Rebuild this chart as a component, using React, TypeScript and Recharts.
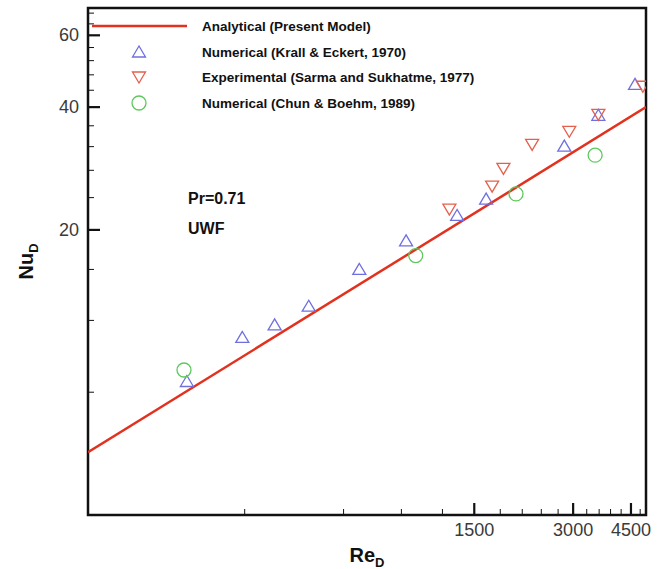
import React from "react";
import {
  ReferenceArea,
  Scatter,
  ScatterChart,
  XAxis,
  YAxis,
} from "recharts";

// Re_D vs Nu_D
const analyticalRe = [100, 5000];
const analyticalNu = [5.7, 40];

const krallRe = [200, 295, 370, 470, 670, 930, 1330, 1630, 2820, 3580, 4630];
const krallNu = [8.5, 10.9, 11.7, 13.0, 16.0, 18.8, 21.7, 23.8, 32.1, 38.2, 45.5];

const sarmaRe = [1260, 1700, 1840, 2250, 2920, 3580, 4890];
const sarmaNu = [22.5, 25.6, 28.3, 32.4, 34.9, 38.4, 45.0];

const chunRe = [196, 995, 2010, 3500];
const chunNu = [9.07, 17.3, 24.5, 30.5];

const xTicks = [300, 600, 900, 1200, 1500, 1800, 2100, 2400, 2700, 3000, 3300, 3600, 3900, 4200, 4500, 4800];
const xLabelled = [1500, 3000, 4500];
const yTicks = [8, 12, 16, 20, 24, 28, 32, 36, 40, 44, 48, 52, 56, 60, 64, 68];
const yLabelled = [20, 40, 60];

const legendItems = [
  "Analytical (Present Model)",
  "Numerical (Krall & Eckert, 1970)",
  "Experimental (Sarma and Sukhatme, 1977)",
  "Numerical (Chun & Boehm, 1989)",
];

const toPoints = (re: number[], nu: number[]) =>
  re.map((r, i) => ({ re: r, nu: nu[i] }));

const FONT = '"Liberation Sans", Arial, Helvetica, sans-serif';
const LINE_RED = "#e2321f";
const BLUE = "#6f6fe0";
const RED = "#e4604c";
const GREEN = "#5ec85e";

const UpTriangle = ({ cx, cy }: any) => (
  <path
    d={`M${cx},${cy - 6} L${cx - 6.5},${cy + 5} L${cx + 6.5},${cy + 5} Z`}
    fill="none"
    stroke={BLUE}
    strokeWidth={1.3}
  />
);

const DownTriangle = ({ cx, cy }: any) => (
  <path
    d={`M${cx},${cy + 6} L${cx - 6.5},${cy - 5} L${cx + 6.5},${cy - 5} Z`}
    fill="none"
    stroke={RED}
    strokeWidth={1.3}
  />
);

const Ring = ({ cx, cy }: any) => (
  <circle cx={cx} cy={cy} r={7} fill="none" stroke={GREEN} strokeWidth={1.3} />
);

const NoDot = () => <g />;

const XTick = ({ x, y, payload }: any) => {
  const major = xLabelled.includes(payload.value);
  return (
    <g>
      <line x1={x} x2={x} y1={y} y2={y - (major ? 12 : 6)} stroke="#111" strokeWidth={major ? 2.2 : 1} />
      {major && (
        <text x={x} y={y + 21} textAnchor="middle" fontFamily={FONT} fontSize={18} fill="#3a3a3a">
          {payload.value}
        </text>
      )}
    </g>
  );
};

const YTick = ({ x, y, payload }: any) => {
  const major = yLabelled.includes(payload.value);
  return (
    <g>
      <line x1={x} x2={x + (major ? 12 : 6)} y1={y} y2={y} stroke="#111" strokeWidth={major ? 2.2 : 1} />
      {major && (
        <text x={x - 9} y={y + 6} textAnchor="end" fontFamily={FONT} fontSize={18} fill="#3a3a3a">
          {payload.value}
        </text>
      )}
    </g>
  );
};

const XTitle = ({ viewBox }: any) => (
  <text x={viewBox.x + viewBox.width / 2} y={viewBox.y + 47} textAnchor="middle" fontFamily={FONT} fontSize={20} fontWeight="bold" fill="#111">
    Re
    <tspan fontSize={13} dy={5}>D</tspan>
  </text>
);

const YTitle = ({ viewBox }: any) => {
  const cx = 33;
  const cy = viewBox.y + viewBox.height / 2;
  return (
    <text x={cx} y={cy} transform={`rotate(-90 ${cx} ${cy})`} textAnchor="middle" fontFamily={FONT} fontSize={20} fontWeight="bold" fill="#111">
      Nu
      <tspan fontSize={13} dy={5}>D</tspan>
    </text>
  );
};

function Overlay() {
  const rows = [26, 52, 77, 103];
  return (
    <svg width={663} height={569} style={{ position: "absolute", left: 0, top: 0, pointerEvents: "none" }}>
      <line x1={92} x2={187} y1={rows[0]} y2={rows[0]} stroke={LINE_RED} strokeWidth={2.5} />
      <UpTriangle cx={139} cy={rows[1]} />
      <DownTriangle cx={139} cy={rows[2]} />
      <Ring cx={139} cy={rows[3]} />
      {legendItems.map((label, i) => (
        <text key={label} x={202} y={rows[i] + 5} fontFamily={FONT} fontSize={13.5} fontWeight="bold" fill="#111">
          {label}
        </text>
      ))}
      <text x={188} y={204} fontFamily={FONT} fontSize={16} fontWeight="bold" fill="#111">
        Pr=0.71
      </text>
      <text x={188} y={234} fontFamily={FONT} fontSize={16} fontWeight="bold" fill="#111">
        UWF
      </text>
    </svg>
  );
}

export default function App() {
  return (
    <div style={{ position: "absolute", left: 0, top: 0, width: 663, height: 569, background: "#fff" }}>
      <ScatterChart width={663} height={569} margin={{ top: 8, right: 17, bottom: 24, left: 28 }}>
        <XAxis
          type="number"
          dataKey="re"
          scale="log"
          domain={[100, 5000]}
          allowDataOverflow
          ticks={xTicks}
          interval={0}
          tick={<XTick />}
          tickLine={false}
          tickSize={0}
          tickMargin={0}
          axisLine={false}
          height={30}
          label={<XTitle />}
        />
        <YAxis
          type="number"
          dataKey="nu"
          scale="log"
          domain={[4, 70]}
          allowDataOverflow
          ticks={yTicks}
          interval={0}
          tick={<YTick />}
          tickLine={false}
          tickSize={0}
          tickMargin={0}
          axisLine={false}
          width={60}
          label={<YTitle />}
        />
        <Scatter
          name="Analytical (Present Model)"
          data={toPoints(analyticalRe, analyticalNu)}
          line={{ stroke: LINE_RED, strokeWidth: 2.5 }}
          shape={<NoDot />}
          isAnimationActive={false}
        />
        <Scatter
          name="Numerical (Krall & Eckert, 1970)"
          data={toPoints(krallRe, krallNu)}
          shape={<UpTriangle />}
          isAnimationActive={false}
        />
        <Scatter
          name="Experimental (Sarma and Sukhatme, 1977)"
          data={toPoints(sarmaRe, sarmaNu)}
          shape={<DownTriangle />}
          isAnimationActive={false}
        />
        <Scatter
          name="Numerical (Chun & Boehm, 1989)"
          data={toPoints(chunRe, chunNu)}
          shape={<Ring />}
          isAnimationActive={false}
        />
        <ReferenceArea x1={100} x2={5000} y1={4} y2={70} fill="none" stroke="#111" strokeWidth={2.5} />
      </ScatterChart>
      <Overlay />
    </div>
  );
}
